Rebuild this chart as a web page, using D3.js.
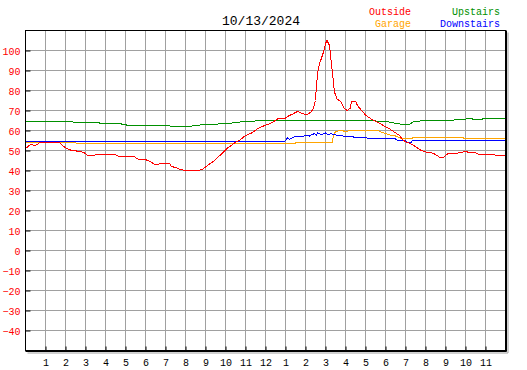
<!DOCTYPE html>
<html>
<head>
<meta charset="utf-8">
<script src="https://cdn.jsdelivr.net/npm/d3@7"></script>
<style>
  body { margin: 0; background: #fff; }
  svg { display: block; }
</style>
</head>
<body>
<div id="chart"></div>
<script>
// readings as [hour of day, degrees F]
const outside = [
  [0.03, 51.2], [0.28, 53.3], [0.45, 52.3], [0.7, 53.8], [1.0, 54], [1.7, 54.2],
  [1.87, 52.2], [2.1, 50.8], [2.37, 49.8], [2.7, 49.7], [2.95, 48.8], [3.1, 47.5],
  [3.37, 47.5], [3.5, 47.8], [4.5, 47.8], [4.7, 46.8], [5.45, 46.8], [5.7, 45.3],
  [6.0, 45.5], [6.28, 44.2], [6.45, 43], [6.7, 43.3], [6.78, 43.7], [7.2, 43.7],
  [7.3, 42], [7.5, 41.5], [7.8, 40.3], [8.45, 39.8], [8.6, 39.8], [8.87, 40.8],
  [9.1, 42.5], [9.45, 45], [9.8, 48.3], [10.1, 51.2], [10.45, 53.7], [10.8, 55.8],
  [10.95, 57.2], [11.3, 58.7], [11.6, 60.8], [11.95, 62.5], [12.2, 63.3], [12.45, 64.7],
  [12.6, 65.8], [12.95, 65.8], [13.1, 67], [13.37, 68.3], [13.6, 69.5], [13.8, 68.7],
  [14.03, 67.8], [14.28, 69.2], [14.4, 71.3], [14.5, 75], [14.53, 80], [14.6, 88.3],
  [14.7, 93.3], [14.87, 98.3], [15.03, 104.2], [15.08, 105], [15.2, 102.5], [15.28, 95],
  [15.37, 86.7], [15.45, 79.2], [15.58, 75.8], [15.78, 74.2], [15.95, 70.8], [16.1, 70],
  [16.25, 71.3], [16.3, 74.7], [16.5, 74.7], [16.6, 72.5], [16.8, 70], [17.03, 67.5],
  [17.28, 65.8], [17.6, 64.2], [17.95, 62.2], [18.2, 60.8], [18.45, 59.2], [18.7, 57.5],
  [18.87, 55.3], [19.03, 54.2], [19.28, 53.3], [19.53, 51.7], [19.78, 50], [20.03, 49.2],
  [20.37, 48.7], [20.7, 46.7], [20.87, 46.3], [21.1, 48.3], [21.45, 48.7], [21.78, 48.8],
  [22.0, 49.7], [22.2, 48.8], [22.53, 48.8], [22.7, 47.8], [23.45, 47.8], [23.7, 47.5],
  [23.95, 47.5]
];

const garage = [
  [0, 54], [2.5, 54], [2.55, 53.3], [13.45, 53.3], [13.5, 53.8], [15.33, 53.8],
  [15.4, 57.5], [15.5, 59.5], [15.8, 60], [16.0, 59.5], [16.3, 60], [16.5, 59.8],
  [16.8, 60.2], [17, 59.7], [17.3, 60.2], [17.6, 60],
  [17.8, 59.2], [18.05, 58.3], [18.2, 57.8], [18.45, 57.5], [18.7, 56.3], [18.85, 55.8],
  [19.3, 55.8], [19.35, 56.3], [21.9, 56.3], [21.95, 55.8], [24, 55.8]
];

const upstairs = [
  [0, 64.5], [2.35, 64.5], [2.4, 63.8], [3.7, 63.8], [3.75, 63.3], [4.8, 63.3],
  [4.85, 62.8], [6, 62.5], [7.2, 62.5], [7.25, 62], [8.3, 62], [8.35, 62.5],
  [8.7, 62.5], [8.75, 63], [9.6, 63], [9.65, 63.5], [10.3, 63.5], [10.35, 64],
  [10.7, 64], [10.75, 64.5], [11.45, 64.5], [11.5, 65], [17.5, 65], [17.55, 64.5],
  [18.0, 64.5], [18.2, 64.2], [18.45, 63.7], [18.7, 63.3], [18.95, 62.8], [19.2, 63],
  [19.35, 64.2], [19.7, 64.7], [19.85, 65], [21.4, 65], [21.45, 65.5], [22, 65.5],
  [22.05, 65.8], [22.35, 65.8], [22.4, 65.3], [22.8, 65.3], [22.85, 65.8], [24, 65.8]
];

const downstairs = [
  [0, 54.3], [12.95, 54.3], [13.1, 56.3], [13.2, 55.5], [13.3, 56.2], [13.5, 57],
  [13.8, 56.8], [14.0, 57.5], [14.2, 57.2], [14.3, 57.8], [14.45, 58.5], [14.55, 57.8],
  [14.6, 58.8], [14.8, 58], [15.0, 58.8], [15.1, 58.1], [15.3, 58.3], [15.6, 57.5],
  [16.45, 56.7], [16.95, 56.3], [18.0, 55.8], [18.5, 55.8],
  [18.6, 55], [19.0, 55], [19.05, 54.2], [19.25, 53.7], [19.35, 55], [24, 55]
];

const hourTicks = d3.range(1, 24);
const hourLabels = hourTicks.map((h) => String(h % 12 === 0 ? 12 : h % 12));
const tempTicks = d3.range(-40, 101, 10);

const series = [
  { name: 'Garage', data: garage, color: '#ffa500' },
  { name: 'Downstairs', data: downstairs, color: '#0000ff' },
  { name: 'Upstairs', data: upstairs, color: '#009000' },
  { name: 'Outside', data: outside, color: '#ff0000' },
];

const width = 527;
const height = 370;
const mono = '"Liberation Mono", "DejaVu Sans Mono", monospace';

const x = d3.scaleLinear().domain([0, 24]).range([25.5, 505.5]);
const y = d3.scaleLinear().domain([-50, 110]).range([350.5, 30.5]);

const svg = d3
  .select('#chart')
  .append('svg')
  .attr('width', width)
  .attr('height', height)
  .attr('viewBox', `0 0 ${width} ${height}`);

// grid
const grid = svg.append('g').attr('stroke', '#a0a0a0').attr('stroke-width', 1);
grid
  .selectAll('line.v')
  .data(hourTicks)
  .join('line')
  .attr('class', 'v')
  .attr('x1', (d) => x(d))
  .attr('x2', (d) => x(d))
  .attr('y1', y(110))
  .attr('y2', y(-50));
grid
  .selectAll('line.h')
  .data(tempTicks)
  .join('line')
  .attr('class', 'h')
  .attr('x1', x(0))
  .attr('x2', x(24))
  .attr('y1', (d) => y(d))
  .attr('y2', (d) => y(d));

// lines
const line = d3
  .line()
  .x((d) => x(d[0]))
  .y((d) => y(d[1]));

svg
  .append('g')
  .selectAll('path')
  .data(series)
  .join('path')
  .attr('fill', 'none')
  .attr('stroke', (d) => d.color)
  .attr('stroke-width', 1)
  .attr('shape-rendering', 'crispEdges')
  .attr('d', (d) => line(d.data));

// frame with drop shadow
svg.append('path')
  .attr('d', `M${x(0) + 2},${y(-50) + 2.5}H${x(24) + 2.5}V${y(110) + 2}`)
  .attr('fill', 'none')
  .attr('stroke', '#a0a0a0');
svg.append('rect')
  .attr('x', x(0))
  .attr('y', y(110))
  .attr('width', x(24) - x(0))
  .attr('height', y(-50) - y(110))
  .attr('fill', 'none')
  .attr('stroke', '#000');
svg.append('path')
  .attr('d', `M${x(0)},${y(-50) + 1}H${x(24) + 1}V${y(110)}`)
  .attr('fill', 'none')
  .attr('stroke', '#000');

// axes
const yAxis = svg
  .append('g')
  .attr('transform', `translate(${x(0)},0)`)
  .call(d3.axisLeft(y).tickValues(tempTicks).tickSize(-5).tickPadding(5));
yAxis.select('.domain').remove();
yAxis.selectAll('.tick line').attr('stroke', '#000');
yAxis.selectAll('.tick text')
  .attr('fill', '#ff0000')
  .attr('font-family', mono)
  .attr('font-size', 10)
  .attr('dy', '0.4em');

const xAxis = svg
  .append('g')
  .attr('transform', `translate(0,${y(-50)})`)
  .call(
    d3.axisBottom(x)
      .tickValues(hourTicks)
      .tickFormat((d, i) => hourLabels[i])
      .tickSize(-4)
      .tickPadding(8)
  );
xAxis.select('.domain').remove();
xAxis.selectAll('.tick line').attr('stroke', '#000');
xAxis.selectAll('.tick text')
  .attr('fill', '#000')
  .attr('font-family', mono)
  .attr('font-size', 10);

// title
svg.append('text')
  .attr('x', 261)
  .attr('y', 25)
  .attr('text-anchor', 'middle')
  .attr('font-family', mono)
  .attr('font-size', 13)
  .attr('fill', '#000')
  .text('10/13/2024');

// legend
const legend = [
  { name: 'Outside', color: '#ff0000', lx: 411, ly: 15 },
  { name: 'Garage', color: '#ffa500', lx: 411, ly: 27 },
  { name: 'Upstairs', color: '#009000', lx: 500, ly: 15 },
  { name: 'Downstairs', color: '#0000ff', lx: 500, ly: 27 },
];
svg.append('g')
  .selectAll('text')
  .data(legend)
  .join('text')
  .attr('x', (d) => d.lx)
  .attr('y', (d) => d.ly)
  .attr('text-anchor', 'end')
  .attr('font-family', mono)
  .attr('font-size', 10)
  .attr('fill', (d) => d.color)
  .text((d) => d.name);
</script>
</body>
</html>
